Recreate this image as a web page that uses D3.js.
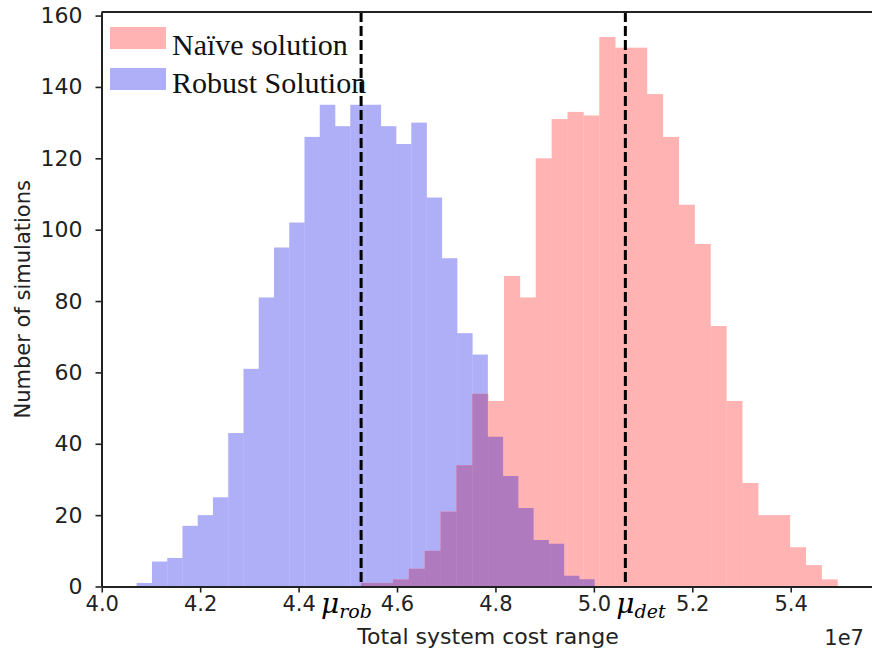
<!DOCTYPE html>
<html>
<head>
<meta charset="utf-8">
<script src="https://cdn.jsdelivr.net/npm/d3@7"></script>
<style>
  html, body { margin: 0; padding: 0; background: #fff; }
  svg { display: block; }
</style>
</head>
<body>
<svg id="chart" width="872" height="655"></svg>
<script>
// ---------------- data ----------------
const robustCounts = [1, 7, 8, 17, 20, 25, 43, 61, 81, 95, 102, 126, 135, 129, 135, 135, 129, 124, 130, 109, 92, 71, 65, 42, 31, 22, 13, 12, 3, 2];
const robustRange = [4.071, 5.001];   // x1e7, histogram range
const naiveCounts = [1, 1, 2, 5, 10, 21, 34, 54, 52, 87, 81, 120, 131, 133, 132, 154, 151, 151, 138, 126, 107, 96, 73, 52, 29, 20, 20, 11, 6, 2];
const naiveRange = [4.527, 5.495];
const meanLines = [
  { value: 4.527, main: "μ", sub: "rob" },
  { value: 5.064, main: "μ", sub: "det" }
];
const xTicks = [4.0, 4.2, 4.4, 4.6, 4.8, 5.0, 5.2, 5.4];
const yTicks = [0, 20, 40, 60, 80, 100, 120, 140, 160];
const legendItems = ["Naïve solution", "Robust Solution"];
const xDomain = [3.9995, 5.5662];
const yDomain = [0, 161];

// ---------------- layout ----------------
const svg = d3.select("#chart");
const L = 101.5, R = 872.5, T = 12, B = 586.5;
const x = d3.scaleLinear().domain(xDomain).range([L, R]);
const y = d3.scaleLinear().domain(yDomain).range([B, T]);

const blueFill = "#afaff8", redFill = "#ffb3b3", purpleFill = "#b07abe";

function bins(counts, range) {
  const n = counts.length, w = (range[1] - range[0]) / n;
  return counts.map((c, i) => ({ x0: range[0] + i * w, x1: range[0] + (i + 1) * w, c }));
}
const blueBins = bins(robustCounts, robustRange);
const redBins = bins(naiveCounts, naiveRange);

const defs = svg.append("defs");
const clip = defs.append("clipPath").attr("id", "blueClip");
clip.selectAll("rect").data(blueBins).join("rect")
  .attr("x", d => x(d.x0)).attr("width", d => x(d.x1) - x(d.x0) + 0.3)
  .attr("y", d => y(d.c)).attr("height", d => y(0) - y(d.c));

const plot = svg.append("g");
plot.append("g").selectAll("rect").data(blueBins).join("rect")
  .attr("x", d => x(d.x0)).attr("width", d => x(d.x1) - x(d.x0) + 0.3)
  .attr("y", d => y(d.c)).attr("height", d => y(0) - y(d.c))
  .attr("fill", blueFill);
plot.append("g").selectAll("rect").data(redBins).join("rect")
  .attr("x", d => x(d.x0)).attr("width", d => x(d.x1) - x(d.x0) + 0.3)
  .attr("y", d => y(d.c)).attr("height", d => y(0) - y(d.c))
  .attr("fill", redFill);
plot.append("g").attr("clip-path", "url(#blueClip)")
  .selectAll("rect").data(redBins).join("rect")
  .attr("x", d => x(d.x0)).attr("width", d => x(d.x1) - x(d.x0) + 0.3)
  .attr("y", d => y(d.c)).attr("height", d => y(0) - y(d.c))
  .attr("fill", purpleFill);

// dashed mean lines
svg.append("g").selectAll("line").data(meanLines).join("line")
  .attr("x1", d => x(d.value)).attr("x2", d => x(d.value))
  .attr("y1", y(yDomain[1])).attr("y2", y(0))
  .attr("stroke", "#000").attr("stroke-width", 3)
  .attr("stroke-dasharray", "10,4");

// axes
const tickFont = "DejaVu Sans, sans-serif";
const xAxis = svg.append("g").attr("transform", `translate(0,${B})`)
  .call(d3.axisBottom(x).tickValues(xTicks).tickFormat(d3.format(".1f")).tickSize(6).tickSizeOuter(0));
const yAxis = svg.append("g").attr("transform", `translate(${L},0)`)
  .call(d3.axisLeft(y).tickValues(yTicks).tickSize(6).tickSizeOuter(0));
[xAxis, yAxis].forEach(a => {
  a.select(".domain").attr("stroke", "#222").attr("stroke-width", 2);
  a.selectAll(".tick line").attr("stroke", "#222").attr("stroke-width", 1.6);
  a.selectAll(".tick text").attr("fill", "#222").style("font-family", tickFont).style("font-size", "22px");
});
xAxis.selectAll(".tick text").attr("dy", "0.9em").attr("y", 6).style("font-size", "21px");
yAxis.selectAll(".tick text").attr("x", -19);
// top spine
svg.append("line").attr("x1", L).attr("x2", R).attr("y1", T).attr("y2", T)
  .attr("stroke", "#222").attr("stroke-width", 2);

// mean labels
const ml = svg.append("g").selectAll("text").data(meanLines).join("text")
  .attr("x", d => x(d.value) - 40 + (d.sub === "det" ? 31 : 0))
  .attr("y", 613)
  .style("font-family", "DejaVu Serif, serif").style("font-style", "italic")
  .style("font-size", "28px").attr("fill", "#000");
ml.append("tspan").text(d => d.main);
ml.append("tspan").attr("dy", 5).style("font-size", "19px").text(d => d.sub);

// axis titles
svg.append("text").attr("x", (L + R) / 2 + 1).attr("y", 644).attr("text-anchor", "middle")
  .style("font-family", tickFont).style("font-size", "22px").attr("fill", "#222")
  .text("Total system cost range");
svg.append("text").attr("x", 864).attr("y", 645).attr("text-anchor", "end")
  .style("font-family", tickFont).style("font-size", "21px").attr("fill", "#222")
  .text("1e7");
svg.append("text").attr("transform", `translate(30,${(T + B) / 2}) rotate(-90)`)
  .attr("text-anchor", "middle")
  .style("font-family", tickFont).style("font-size", "21px").attr("fill", "#222")
  .text("Number of simulations");

// legend
const leg = svg.append("g");
const legColors = [redFill, blueFill];
legendItems.forEach((t, i) => {
  const yy = 27 + i * 41;
  leg.append("rect").attr("x", 110).attr("y", yy).attr("width", 56).attr("height", 22).attr("fill", legColors[i]);
  leg.append("text").attr("x", 172).attr("y", yy + 28 - i * 3)
    .style("font-family", "Liberation Serif, Times New Roman, serif").style("font-size", "30px")
    .attr("fill", "#111").text(t);
});
</script>
</body>
</html>
